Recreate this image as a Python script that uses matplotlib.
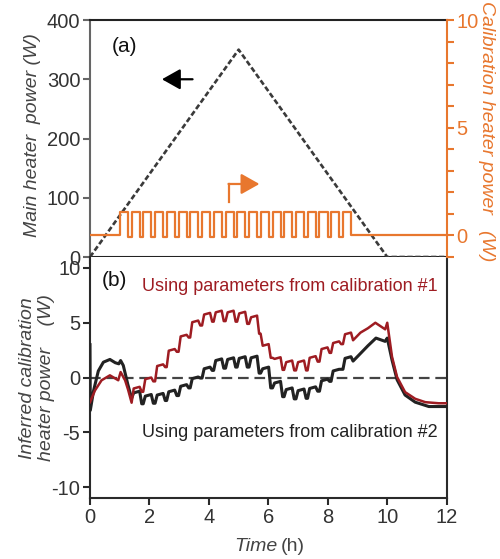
import matplotlib
matplotlib.use('Agg')
import matplotlib.pyplot as plt

plt.rcParams['font.family'] = ['Liberation Sans', 'DejaVu Sans']
plt.rcParams['axes.unicode_minus'] = False

# ---------------- data ----------------
main_t = [0, 5, 10, 12]
main_w = [0, 350, 0, 0]

pulse_start = [1.00, 1.40, 1.79, 2.19, 2.58, 2.98, 3.37, 3.77, 4.16, 4.56,
               4.95, 5.35, 5.74, 6.14, 6.53, 6.93, 7.32, 7.72, 8.11, 8.51]
pulse_end = [1.27, 1.67, 2.06, 2.46, 2.85, 3.25, 3.64, 4.04, 4.43, 4.83,
             5.22, 5.62, 6.01, 6.41, 6.80, 7.20, 7.59, 7.99, 8.38, 8.78]
cal_on = 1.1
cal_off = -0.05
cal_base = 0.0

# inferred calibration power, black (calibration #2)
black_lead_t = [0.00, 0.01, 0.12, 0.28, 0.45, 0.67, 0.85, 0.97, 1.03, 1.12, 1.27, 1.40]
black_lead_v = [3.0, -3.0, -1.2, 0.6, 1.4, 1.65, 1.35, 1.25, 1.55, 1.1, -0.6, -1.9]
black_high = [-1.3, -1.6, -1.5, -1.2, -0.7, 0.0, 0.9, 1.65, 1.75, 1.85,
              1.9, 0.9, -0.4, -1.0, -1.1, -0.9, -0.2, 0.7, 1.85]
black_low = [-2.4, -2.35, -2.1, -1.65, -0.95, -0.05, 0.65, 0.85, 0.95, 0.95,
             0.4, -0.95, -1.75, -1.95, -1.9, -1.25, -0.35, 0.75, 1.5]
black_tail_t = [9.10, 9.35, 9.62, 9.93, 10.00, 10.16, 10.33, 10.60, 10.94, 11.40, 12.00]
black_tail_v = [2.2, 2.9, 3.6, 3.3, 3.6, 1.6, -0.2, -1.6, -2.25, -2.65, -2.65]

# inferred calibration power, red (calibration #1)
red_lead_t = [0.00, 0.17, 0.39, 0.67, 0.95, 1.03, 1.18, 1.28, 1.40]
red_lead_v = [-2.25, -1.17, -0.25, 0.2, -0.25, 0.5, -0.25, -1.1, -2.3]
red_high = [-0.9, -0.05, 1.15, 2.55, 3.85, 5.15, 5.85, 6.05, 6.05, 5.95,
            5.6, 3.0, 1.8, 1.5, 1.5, 1.9, 2.7, 3.25, 4.05]
red_low = [-1.3, -0.35, 0.95, 2.35, 3.65, 4.75, 5.1, 5.15, 5.1, 4.9,
           4.0, 1.8, 0.7, 0.65, 0.65, 1.45, 2.25, 3.05, 3.4]
red_tail_t = [9.10, 9.35, 9.60, 9.93, 10.00, 10.16, 10.33, 10.60, 10.94, 11.28, 11.73, 12.00]
red_tail_v = [4.1, 4.5, 5.0, 4.4, 5.0, 1.9, 0.05, -1.33, -1.94, -2.25, -2.35, -2.35]

x_ticks = [0, 2, 4, 6, 8, 10, 12]

# ---------------- helpers ----------------
def square_wave():
    t = [0.0, pulse_start[0]]
    v = [cal_base, cal_base]
    n = len(pulse_start)
    for i, (s, e) in enumerate(zip(pulse_start, pulse_end)):
        t += [s, e, e]
        v += [cal_on, cal_on, cal_off if i < n - 1 else cal_base]
        if i < n - 1:
            t += [pulse_start[i + 1]]
            v += [cal_off]
    t += [12.0]
    v += [cal_base]
    return t, v


def curve(lead_t, lead_v, highs, lows, tail_t, tail_v):
    t = list(lead_t)
    v = list(lead_v)
    prev = lead_v[-1]
    for s, e, h, lo in zip(pulse_start[1:], pulse_end[1:], highs, lows):
        t += [s, s + 0.07, e, e + 0.07]
        v += [prev, h - 0.1, h + 0.05, lo]
        prev = lo
    t += tail_t
    v += tail_v
    return t, v


ORANGE = '#E8772E'
RED = '#9E1C22'
DARK = '#222222'
GRAY = '#444444'
TICKC = '#333333'

fig = plt.figure(figsize=(5.0, 5.59), dpi=100)
ax1 = fig.add_axes([0.18, 0.5402, 0.7134, 0.424])
ax2 = fig.add_axes([0.18, 0.1091, 0.7134, 0.4311])
ax1r = ax1.twinx()

# ---- top panel ----
ax1.plot(main_t, main_w, color='#3a3a3a', lw=1.9, dashes=(2.0, 1.0), zorder=3)
sq_t, sq_v = square_wave()
ax1r.plot(sq_t, sq_v, color=ORANGE, lw=1.6, zorder=2)

ax1.set_xlim(0, 12)
ax1.set_ylim(0, 400)
ax1r.set_ylim(-1, 10)
ax1.set_yticks([0, 100, 200, 300, 400])
ax1.set_xticks([0, 2, 4, 6, 8, 10])
ax1.set_xticklabels([])
ax1r.set_yticks([0, 5, 10])
ax1r.set_yticks(range(-1, 11), minor=True)

for sp in ['top', 'bottom']:
    ax1.spines[sp].set_color(DARK)
ax1.spines['left'].set_color('#666666')
for sp in ax1.spines.values():
    sp.set_linewidth(1.5)
ax1r.spines['right'].set_color(ORANGE)
ax1r.spines['right'].set_linewidth(1.5)
ax1r.spines['left'].set_visible(False)
ax1r.spines['top'].set_visible(False)
ax1r.spines['bottom'].set_visible(False)
ax1.spines['right'].set_visible(False)

ax1.tick_params(axis='y', direction='out', length=5, width=1.5, color='#666666',
                labelsize=14.5, labelcolor=TICKC, pad=2)
ax1.tick_params(axis='x', direction='out', length=5, width=1.5, color=DARK)
ax1r.tick_params(axis='y', which='both', direction='out', length=5, width=1.5,
                 color=ORANGE, labelsize=14.5, labelcolor=ORANGE, pad=2)

ax1.text(0.72, 356, '(a)', fontsize=15, color='#111111', va='center', ha='left')
ax1.annotate('', xy=(2.42, 300), xytext=(3.45, 300),
             arrowprops=dict(arrowstyle='-|>,head_length=0.8,head_width=0.45',
                             mutation_scale=14, lw=1.6, color='black',
                             shrinkA=0, shrinkB=0))
ax1r.plot([4.69, 4.69], [1.55, 2.39], color=ORANGE, lw=1.6)
ax1r.annotate('', xy=(5.70, 2.39), xytext=(4.66, 2.39),
              arrowprops=dict(arrowstyle='-|>,head_length=0.8,head_width=0.45',
                              mutation_scale=14, lw=1.6, color=ORANGE,
                              shrinkA=0, shrinkB=0))

# ---- bottom panel ----
ax2.axhline(0, color=GRAY, lw=1.6, dashes=(4.8, 2.6), zorder=1)
bt, bv = curve(black_lead_t, black_lead_v, black_high, black_low, black_tail_t, black_tail_v)
rt, rv = curve(red_lead_t, red_lead_v, red_high, red_low, red_tail_t, red_tail_v)
ax2.plot(bt, bv, color=DARK, lw=2.2, zorder=3, solid_joinstyle='round')
ax2.plot(rt, rv, color=RED, lw=1.8, zorder=4, solid_joinstyle='round')

ax2.set_xlim(0, 12)
ax2.set_ylim(-11, 11)
ax2.set_xticks(x_ticks)
ax2.set_yticks([-10, -5, 0, 5, 10])
for sp in ax2.spines.values():
    sp.set_linewidth(1.5)
    sp.set_color('#2a2a2a')
ax2.spines['top'].set_visible(False)
ax2.tick_params(direction='out', length=5, width=1.5, color='#2a2a2a',
                labelsize=14.5, labelcolor=TICKC, pad=2)

ax2.text(0.4, 8.9, '(b)', fontsize=15, color='#111111', va='center', ha='left')
ax2.text(1.75, 8.3, 'Using parameters from calibration #1', fontsize=13,
         color=RED, va='center', ha='left')
ax2.text(1.75, -5.0, 'Using parameters from calibration #2', fontsize=13,
         color=DARK, va='center', ha='left')

# ---- axis labels ----
fig.text(0.066, 0.759, 'Main heater  power (W)', rotation=90, fontsize=14,
         style='italic', color=GRAY, ha='center', va='center')
fig.text(0.974, 0.765, 'Calibration heater power   (W)', rotation=270,
         fontsize=14, style='italic', color=ORANGE, ha='center', va='center')
fig.text(0.074, 0.324, 'Inferred calibration\nheater power    (W)', rotation=90,
         fontsize=14, style='italic', color=GRAY, ha='center', va='center',
         linespacing=1.2)
fig.text(0.556, 0.023, 'Time', fontsize=14, style='italic', color=GRAY,
         ha='right', va='center')
fig.text(0.561, 0.023, '(h)', fontsize=14, color=GRAY, ha='left', va='center')

fig.savefig('out.png', dpi=100)
